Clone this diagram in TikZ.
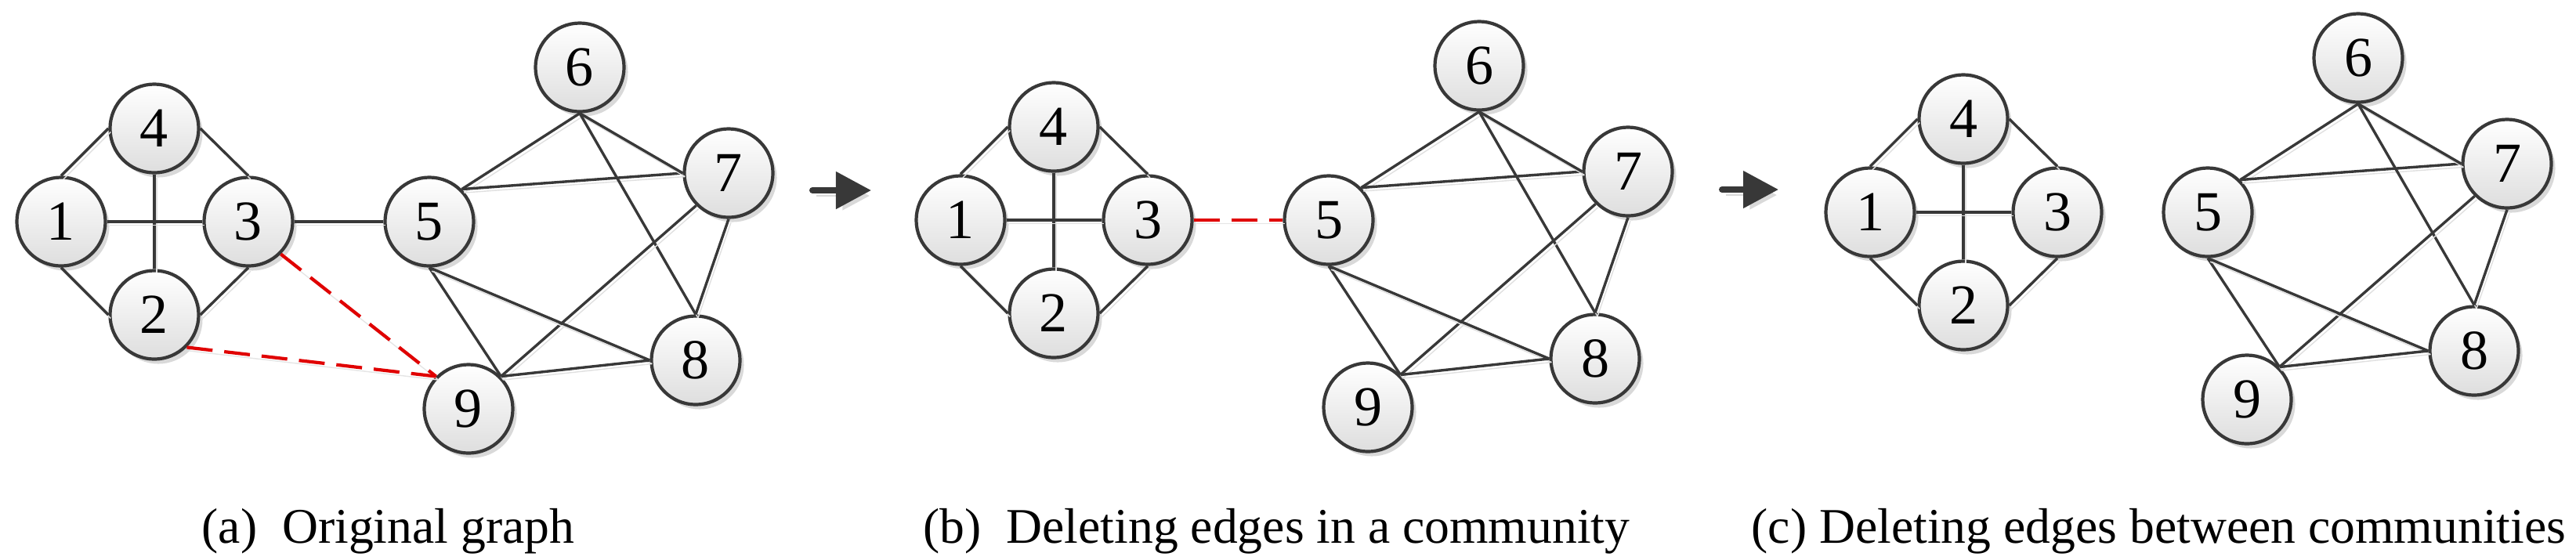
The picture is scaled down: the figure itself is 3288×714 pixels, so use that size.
\documentclass[tikz,border=0pt]{standalone}
\usepackage{fontspec}
\setmainfont{Liberation Serif}
\usetikzlibrary{arrows.meta,shadows}

\tikzset{
  vertex/.style={circle, draw=black!78, line width=0.042cm, minimum size=1.13cm,
    inner sep=0pt, top color=white, bottom color=black!13,
    drop shadow={shadow xshift=0.05cm, shadow yshift=-0.06cm, fill=black!15, opacity=1},
    font=\fontsize{20.5pt}{20.5pt}\selectfont},
  link/.style={draw=black!78, line width=0.034cm,
    preaction={draw=black!12, transform canvas={xshift=0.03cm, yshift=-0.045cm}}},
  cutlink/.style={draw=red!88!black, line width=0.042cm, dash pattern=on 0.33cm off 0.15cm,
    preaction={draw=black!10, solid, transform canvas={xshift=0.03cm, yshift=-0.045cm}}},
  flow/.style={draw=black!78, line width=0.08cm, line cap=round,
    -{Triangle[length=0.45cm, width=0.46cm]},
    preaction={draw=black!15, transform canvas={xshift=0.05cm, yshift=-0.07cm}}},
  caption/.style={anchor=base west, inner sep=0pt, font=\fontsize{18.1pt}{21pt}\selectfont}
}

\begin{document}
\begin{tikzpicture}[x=0.01cm, y=-0.01cm]
  \useasboundingbox (0,0) rectangle (3288,714);
  % community {1,2,3,4} in each panel
  \foreach \p/\dx/\dy in {a/0/0, b/1148/-2, c/2309/-12} {
    \begin{scope}[shift={(\dx,\dy)}, name prefix/.expanded=\p-]
      \node[vertex] (1) at (78,283) {1};
      \node[vertex] (4) at (197,164) {4};
      \node[vertex] (3) at (317,283) {3};
      \node[vertex] (2) at (197,402) {2};
      \draw[link] (1.north) -- (4.west);
      \draw[link] (4.east) -- (3.north);
      \draw[link] (1.south) -- (2.west);
      \draw[link] (2.east) -- (3.south);
      \draw[link] (4.south) -- (2.north);
      \draw[link] (1.east) -- (3.west);
    \end{scope}
  }
  % community {5,...,9} in each panel
  \foreach \p/\dx/\dy in {a/0/0, b/1148/-2, c/2270/-12} {
    \begin{scope}[shift={(\dx,\dy)}, name prefix/.expanded=\p-]
      \node[vertex] (5) at (548,283) {5};
      \node[vertex] (6) at (740,86) {6};
      \node[vertex] (7) at (930,221) {7};
      \node[vertex] (8) at (888,460) {8};
      \node[vertex] (9) at (598,522) {9};
      \draw[link] (5.north east) -- (6.south);
      \draw[link] (5.north east) -- (7.west);
      \draw[link] (6.south) -- (7.west);
      \draw[link] (6.south) -- (8.north);
      \draw[link] (7.south) -- (8.north);
      \draw[link] (7.south west) -- (9.north east);
      \draw[link] (5.south) -- (9.north east);
      \draw[link] (5.south) -- (8.west);
      \draw[link] (9.north east) -- (8.west);
    \end{scope}
  }
  % edges between the communities
  \draw[link] (a-3.east) -- (a-5.west);
  \draw[cutlink] (a-3.south east) -- (a-9.north west);
  \draw[cutlink] (a-2.south east) -- (a-9.north west);
  \draw[cutlink] (b-3.east) -- (b-5.west);
  % arrows between the panels
  \coordinate (ab tail) at (1037,243);
  \coordinate (ab head) at (1112,243);
  \coordinate (bc tail) at (2198,242);
  \coordinate (bc head) at (2270,242);
  \draw[flow] (ab tail) -- (ab head);
  \draw[flow] (bc tail) -- (bc head);
  \node[caption] (cap a) at (257,693) {(a)~~Original graph};
  \node[caption] (cap b) at (1178,693) {(b)~~Deleting edges in a community};
  \node[caption] (cap c) at (2235,693) {(c) Deleting edges between communities};
\end{tikzpicture}
\end{document}
